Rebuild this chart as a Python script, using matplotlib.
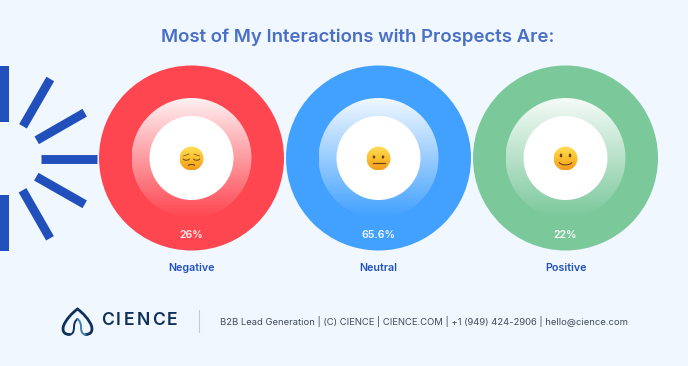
import numpy as np
import matplotlib
matplotlib.use("Agg")
import matplotlib.pyplot as plt
from matplotlib.patches import Circle, PathPatch, Ellipse
from matplotlib.path import Path
from matplotlib.colors import LinearSegmentedColormap

plt.rcParams['font.family'] = ['Inter', 'DejaVu Sans']

# chart content
title = "Most of My Interactions with Prospects Are:"
labels = ["Negative", "Neutral", "Positive"]
values = ["26%", "65.6%", "22%"]
moods = ["sad", "flat", "smile"]
ring_colors = ["#fd4650", "#42a1fe", "#7bc89b"]
footer = "B2B Lead Generation | (C) CIENCE | CIENCE.COM | +1 (949) 424-2906 | hello@cience.com"
brand = "CIENCE"

BG = "#f0f7fe"
BLUE = "#2150bd"
NAVY = "#10305c"

centers_x = [191.5, 378.5, 565.5]
center_y = 158
R_OUT, R_MID, R_IN = 92.5, 60, 42

fig = plt.figure(figsize=(6.88, 3.66), dpi=100, facecolor=BG)
ax = fig.add_axes([0, 0, 1, 1])
ax.set_xlim(0, 688)
ax.set_ylim(366, 0)
ax.axis("off")


def draw_ring(cx, color):
    ax.add_patch(Circle((cx, center_y), R_OUT, fc=color, ec="none", zorder=2))
    cmap = LinearSegmentedColormap.from_list("ring", ["#ffffff", color])
    grad = np.linspace(0.08, 1, 200).reshape(-1, 1)
    im = ax.imshow(grad, cmap=cmap, vmin=0, vmax=1, aspect="auto", zorder=3,
                   extent=(cx - R_MID, cx + R_MID, center_y + R_MID, center_y - R_MID))
    im.set_clip_path(Circle((cx, center_y), R_MID, transform=ax.transData))
    ax.add_patch(Circle((cx, center_y), R_IN, fc="white", ec="none", zorder=4))


def draw_emoji(cx, cy, mood):
    r = 12
    cmap = LinearSegmentedColormap.from_list("face", ["#fee05a", "#fcc02f", "#f49c1c"])
    grad = np.linspace(0, 1, 60).reshape(-1, 1)
    im = ax.imshow(grad, cmap=cmap, aspect="auto", zorder=5,
                   extent=(cx - r, cx + r, cy + r, cy - r))
    im.set_clip_path(Circle((cx, cy), r, transform=ax.transData))
    ink = "#6b4418"
    if mood == "sad":
        t = np.linspace(0.2, np.pi - 0.2, 20)
        for s in (-1, 1):
            ax.plot(cx + s * 5.2 + 3 * np.cos(t), cy + 0.3 + 1.4 * np.sin(t), color=ink, lw=0.7, zorder=6)
            ax.plot([cx + s * 2.5, cx + s * 8], [cy - 4.5, cy - 2.5], color=ink, lw=0.5, zorder=6)
        ax.plot(cx + 3 * np.cos(t), cy + 7 - 1.0 * np.sin(t), color=ink, lw=0.8, zorder=6)
    elif mood == "flat":
        for s in (-1, 1):
            ax.add_patch(Ellipse((cx + s * 4.5, cy - 1.5), 2.6, 3.2, fc=ink, ec="none", zorder=6))
        ax.plot([cx - 6, cx + 6], [cy + 4.2, cy + 4.2], color=ink, lw=0.9, zorder=6)
    else:
        for s in (-1, 1):
            ax.add_patch(Ellipse((cx + s * 4.5, cy - 3), 2.6, 4, fc=ink, ec="none", zorder=6))
        t = np.linspace(0.3, np.pi - 0.3, 24)
        ax.plot(cx + 6.5 * np.cos(t), cy + 3.2 + 3.2 * np.sin(t), color=ink, lw=0.8, zorder=6)


for cx, label, value, mood, color in zip(centers_x, labels, values, moods, ring_colors):
    draw_ring(cx, color)
    draw_emoji(cx, center_y + 0.5, mood)
    ax.text(cx, 234.5, value, color="white", fontsize=7.6, fontweight="semibold",
            ha="center", va="center", zorder=5, alpha=0.92)
    ax.text(cx, 268, label, color=BLUE, fontsize=7.7, fontweight="semibold",
            ha="center", va="center")

ax.text(358, 37.5, title, color="#4a70c6", fontsize=13.4, fontweight="semibold",
        ha="center", va="center")

# burst of bars on the left
ax.fill([0, 9.3, 9.3, 0], [66, 66, 122, 122], color=BLUE, lw=0)
ax.fill([0, 9.3, 9.3, 0], [195, 195, 251, 251], color=BLUE, lw=0)
rays = [((41, 158.8), (97, 158.8)),
        ((23, 126.3), (50.3, 79)),
        ((36.7, 140.3), (84.7, 112.7)),
        ((36.3, 176.7), (84.7, 204.3)),
        ((22.5, 190.3), (50, 238.3))]
for p0, p1 in rays:
    ax.plot([p0[0], p1[0]], [p0[1], p1[1]], color=BLUE, lw=6.4, solid_capstyle="butt", zorder=1)

# logo
M, C = Path.MOVETO, Path.CURVE4
arch = Path([(69.5, 334.5), (64, 334.5), (62, 331), (63.5, 326),
             (65.5, 320), (72, 313), (77.5, 309),
             (83, 313), (89.5, 320), (91.5, 326),
             (93, 331), (91, 334.5), (85.5, 334.5)],
            [M, C, C, C, C, C, C, C, C, C, C, C, C])
ax.add_patch(PathPatch(arch, fc="none", ec=NAVY, lw=2.0, capstyle="round"))
left_lobe = Path([(69.5, 334.5), (73, 334.5), (74, 331), (74, 327),
                  (74, 323), (75.5, 320.5), (77.5, 319)],
                 [M, C, C, C, C, C, C])
right_lobe = Path([(85.5, 334.5), (82, 334.5), (81, 331), (81, 327),
                   (81, 323), (79.5, 320.5), (77.5, 319)],
                  [M, C, C, C, C, C, C])
ax.add_patch(PathPatch(left_lobe, fc="none", ec=NAVY, lw=1.4, capstyle="round"))
ax.add_patch(PathPatch(right_lobe, fc="none", ec="#3f7fae", lw=1.4, capstyle="round"))

letter_x = [107.5, 118.5, 129, 143, 158.5, 172.5]
for x, ch in zip(letter_x, brand):
    ax.text(x, 320.5, ch, color=NAVY, fontsize=12.6, fontweight="semibold", ha="center", va="center")

ax.plot([199, 199], [310, 332], color="#c3ccd6", lw=0.8)
ax.text(220.5, 321.5, footer, color="#414b5e", fontsize=6.81, ha="left", va="center")

fig.savefig("out.png", dpi=100, facecolor=BG)
